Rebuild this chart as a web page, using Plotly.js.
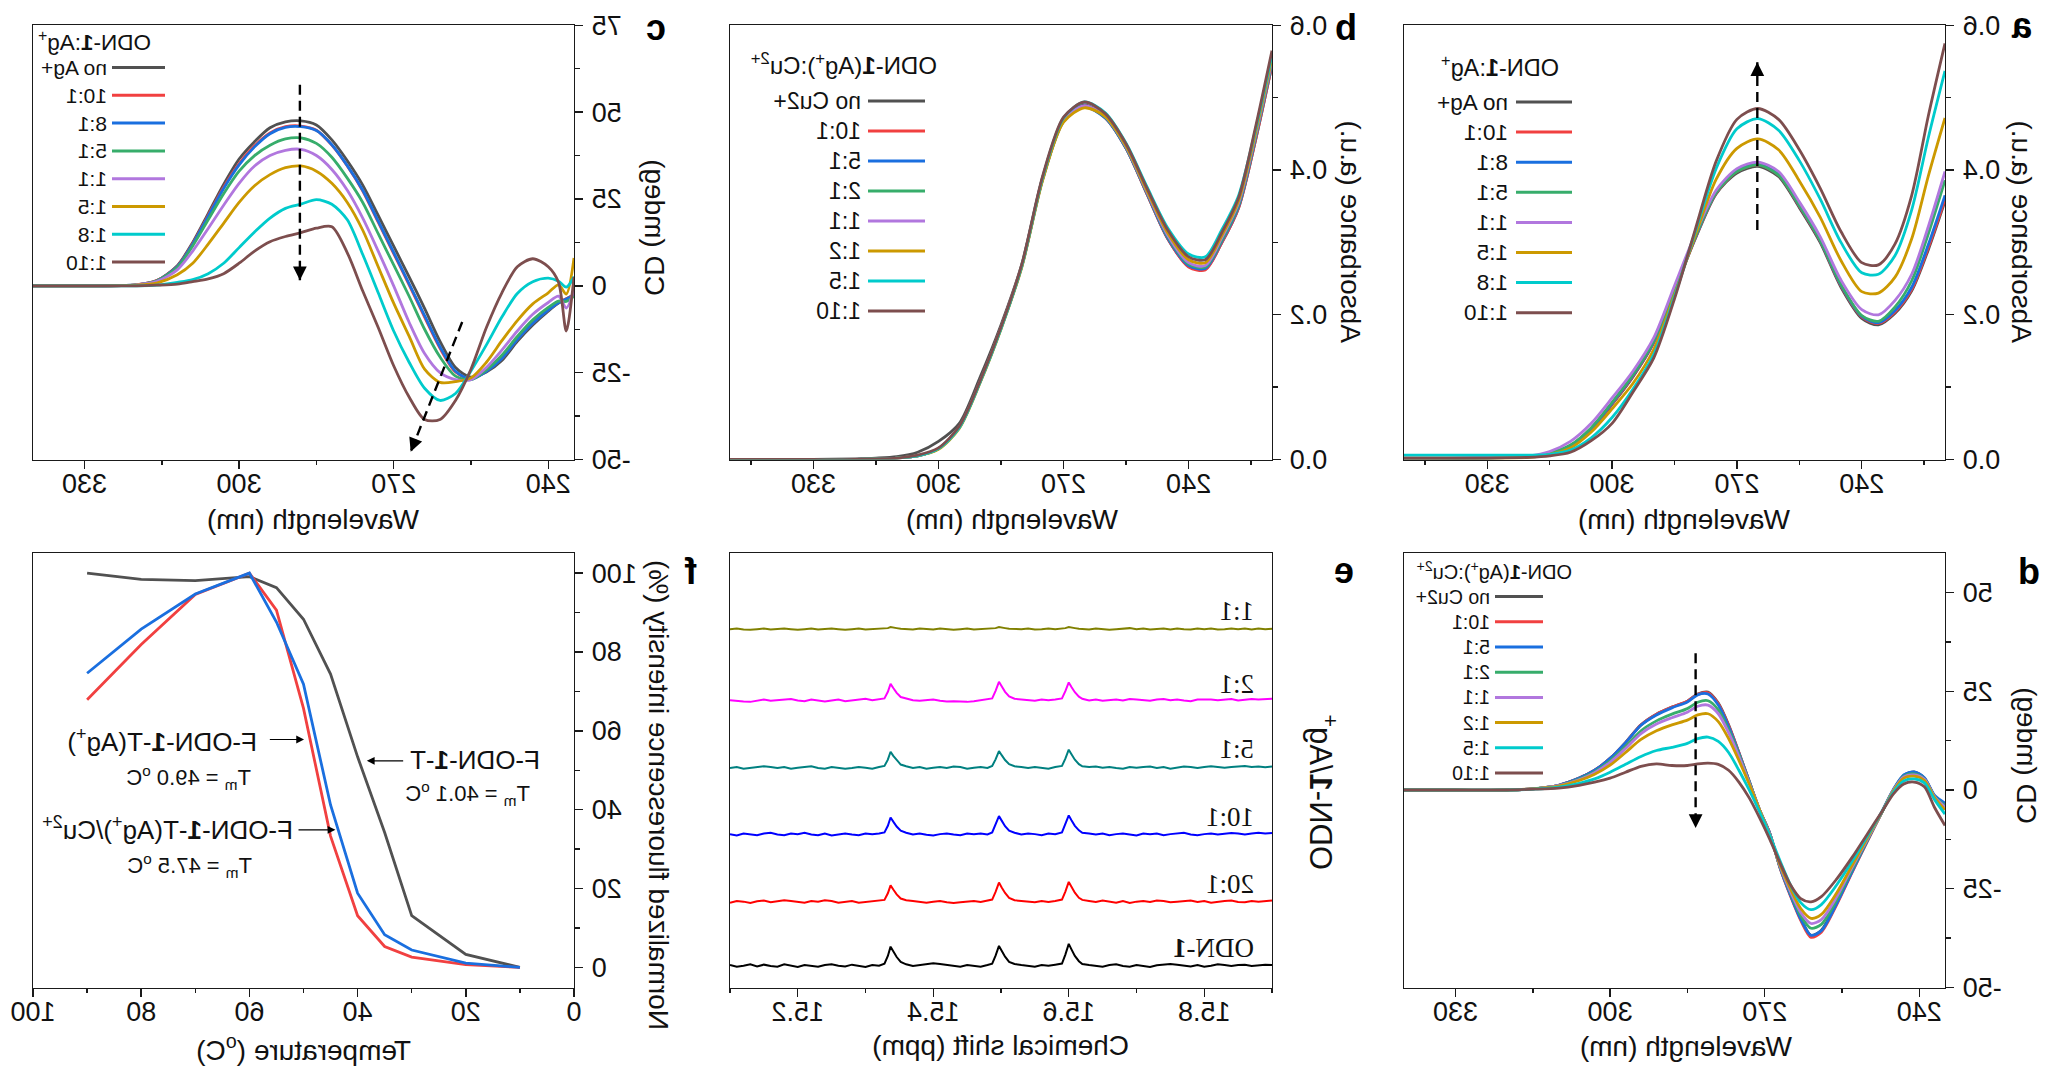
<!DOCTYPE html>
<html>
<head>
<meta charset="utf-8">
<script src="https://cdn.plot.ly/plotly-3.0.1.min.js"></script>
<style>
html,body{margin:0;padding:0;background:#fff;}
#chart{width:2048px;height:1076px;transform:scaleX(-1);}
</style>
</head>
<body>
<div id="chart"></div>
<script>
// ---------------- DATA ----------------
const agRatios = ['no Ag+','10:1','8:1','5:1','1:1','1:5','1:8','1:10'];
const cuRatios = ['no Cu2+','10:1','5:1','2:1','1:1','1:2','1:5','1:10'];

// (a) UV ODN-1 : Ag+  /  (b) UV ODN-1(Ag+) : Cu2+
const wlUV = [220,224,228,232,236,240,245,250,255,260,265,270,275,280,285,290,295,300,305,310,315,320,330,340,350];
const aNoAg = [0.357,0.290,0.233,0.202,0.186,0.195,0.238,0.300,0.348,0.391,0.405,0.396,0.367,0.305,0.233,0.161,0.114,0.076,0.042,0.018,0.008,0.004,0.002,0.001,0.000];
const a10_1 = [0.360,0.293,0.235,0.204,0.188,0.197,0.240,0.302,0.350,0.393,0.407,0.398,0.368,0.306,0.234,0.162,0.115,0.077,0.043,0.019,0.008,0.004,0.002,0.001,0.000];
const a8_1  = [0.365,0.297,0.238,0.206,0.189,0.198,0.241,0.303,0.351,0.394,0.408,0.399,0.369,0.307,0.235,0.163,0.116,0.078,0.043,0.019,0.008,0.004,0.002,0.001,0.000];
const a5_1  = [0.386,0.312,0.247,0.211,0.191,0.199,0.242,0.303,0.351,0.393,0.407,0.398,0.369,0.308,0.236,0.164,0.117,0.079,0.044,0.020,0.009,0.004,0.002,0.001,0.000];
const a1_1  = [0.398,0.322,0.256,0.220,0.200,0.207,0.248,0.308,0.356,0.398,0.411,0.402,0.372,0.312,0.240,0.168,0.122,0.085,0.050,0.025,0.011,0.005,0.003,0.002,0.002];
const a1_5  = [0.472,0.392,0.305,0.252,0.230,0.232,0.275,0.335,0.385,0.428,0.443,0.430,0.387,0.310,0.228,0.152,0.105,0.070,0.038,0.016,0.007,0.003,0.002,0.002,0.002];
const a1_8  = [0.537,0.445,0.345,0.282,0.256,0.258,0.300,0.360,0.413,0.455,0.471,0.457,0.402,0.315,0.225,0.145,0.097,0.058,0.030,0.013,0.007,0.006,0.006,0.006,0.006];
const a1_10 = [0.575,0.475,0.365,0.298,0.269,0.272,0.315,0.375,0.428,0.470,0.485,0.470,0.412,0.318,0.222,0.140,0.093,0.050,0.026,0.010,0.005,0.003,0.002,0.002,0.002];

const bNoCu = [0.545,0.440,0.348,0.300,0.263,0.267,0.305,0.367,0.430,0.473,0.490,0.470,0.390,0.270,0.186,0.114,0.050,0.025,0.010,0.004,0.002,0.001,0.000,0.000,0.000];
const b10_1 = [0.545,0.440,0.348,0.300,0.262,0.266,0.305,0.367,0.430,0.472,0.488,0.468,0.388,0.268,0.182,0.108,0.045,0.015,0.005,0.002,0.001,0.000,0.000,0.000,0.000];
const b5_1  = [0.548,0.443,0.350,0.302,0.264,0.268,0.306,0.368,0.430,0.472,0.487,0.467,0.387,0.267,0.181,0.107,0.044,0.015,0.005,0.002,0.001,0.000,0.000,0.000,0.000];
const b2_1  = [0.550,0.445,0.352,0.304,0.266,0.270,0.308,0.369,0.431,0.473,0.488,0.468,0.388,0.268,0.182,0.108,0.045,0.015,0.005,0.002,0.001,0.000,0.000,0.000,0.000];
const b1_1  = [0.552,0.447,0.355,0.307,0.268,0.272,0.310,0.370,0.432,0.474,0.489,0.469,0.389,0.268,0.182,0.108,0.045,0.015,0.005,0.002,0.001,0.000,0.000,0.000,0.000];
const b1_2  = [0.555,0.450,0.358,0.310,0.272,0.276,0.313,0.372,0.433,0.474,0.486,0.466,0.386,0.266,0.180,0.106,0.043,0.014,0.005,0.002,0.001,0.000,0.000,0.000,0.000];
const b1_5  = [0.560,0.455,0.365,0.318,0.280,0.284,0.320,0.377,0.437,0.479,0.494,0.472,0.390,0.268,0.181,0.107,0.044,0.015,0.005,0.002,0.001,0.000,0.000,0.000,0.000];
const b1_10 = [0.565,0.458,0.362,0.314,0.276,0.280,0.317,0.375,0.436,0.478,0.494,0.473,0.392,0.270,0.183,0.109,0.046,0.016,0.006,0.002,0.001,0.000,0.000,0.000,0.000];

// (c) CD ODN-1 : Ag+
const wlC = [235,236.5,238,240,243,246,249,252,255,258,261,264,267,270,273,276,279,282,285,288,291,294,297,300,303,306,309,312,316,320,330,340];
const cNoAg = [-2.5,-3.8,-5,-7.3,-11.3,-16,-21.5,-24.8,-26.3,-23.5,-16,-6.5,2.6,11.4,20.3,29,36,42,46.3,47.5,47.2,45.5,41.5,36.5,29.2,20.8,12.5,5.8,1.5,0.3,0,0];
const c10_1 = [-2.7,-3.7,-4.8,-6.9,-10.7,-15.4,-20.8,-24.5,-26.8,-24.8,-18,-9,0.3,9.3,18.3,27.3,34.5,40.5,44.8,46,45.8,44,40.3,35.2,28.4,20.3,12.2,5.6,1.5,0.3,0,0];
const c8_1  = [-2.8,-3.8,-4.9,-7,-10.8,-15.5,-20.9,-24.6,-26.9,-24.6,-17.6,-8.6,0.6,9.6,18.6,27.5,34.6,40.6,44.7,45.8,45.6,43.8,40,34.8,28,20,12,5.5,1.4,0.3,0,0];
const c5_1  = [-3,-4.5,-4.4,-6.2,-9.8,-14.6,-20,-24.2,-27,-26,-20.5,-12.5,-3,6,15,24,31,37,41,42.6,42.3,40.5,37.5,33,26.5,19,11.5,5.3,1.4,0.3,0,0];
const c1_1  = [-1,-6.4,-3,-4.8,-8.2,-13,-18.5,-23.5,-27,-27,-25,-19.5,-10.5,0,10,19.5,27.5,33.5,37.5,39.3,39,37.5,34.5,29.5,23.2,16.5,10,4.6,1.2,0.3,0,0];
const c1_5  = [8,-2.4,0.3,-2,-5.2,-10,-15.8,-22,-26.5,-27.6,-27.8,-24,-14.5,-5,5.5,16,24,29.5,33,34.5,34,32,28.8,24,18,12,6.5,3.2,0.8,0.2,0,0];
const c1_8  = [2.6,-0.4,1.3,2.2,1.2,-2.2,-9,-17,-24.5,-31,-33,-29.5,-22,-13,-2,9,19,23.5,24.8,23.5,22.3,19.5,15.5,11,6.5,3.5,1.8,1,0.2,0,0,0];
const c1_10 = [2.6,-13,1,5.5,7.8,5.5,-2,-12,-24,-33,-38.5,-38.5,-32,-23,-12,-1.5,9.5,17,16.6,15.3,14.2,12.7,10,6.5,3.5,2,1.2,0.5,0.2,0,0,0];

// (d) CD ODN-1(Ag+) : Cu2+
const wlD = [235,237,239,241,243,245,247,250,253,256,259,261,263,265,267,269,271,273,275,277,279,281,283,285,288,291,294,297,300,303,306,310,315,320,330,340];
const dNoCu = [-3.5,-1.6,3,4.6,3.7,0,-5,-12.7,-20.5,-28.5,-35.5,-36.8,-32.5,-26.5,-19.7,-11,-5,2.2,9.5,16.5,22,24.8,24.3,22.5,21,19.2,16.5,12,8,5,3,1.2,0.3,0,0,0];
const d10_1 = [-3.6,-1.6,2.9,4.4,3.6,0,-5,-12.8,-20.8,-29,-36,-37.3,-33,-26.8,-19.8,-11,-5,2.2,9.5,16.3,21.8,24.6,24.2,22.5,21,19.2,16.5,12,8,5,3,1.2,0.3,0,0,0];
const d5_1  = [-3.3,-1.4,3.1,4.6,3.8,0.2,-4.8,-12.6,-20.6,-28.7,-35.6,-36.8,-32.7,-26.6,-19.7,-11,-5,2.2,9.3,16,21.5,24.3,24.1,22.3,20.8,19,16.4,12,8,5,3,1.2,0.3,0,0,0];
const d2_1  = [-4,-1.7,2.8,4.1,3.5,0,-5,-12.5,-20,-27.8,-34,-35,-31.8,-26,-19.5,-11.2,-5,2,9,15.2,20.3,22.6,22.2,20.6,19.2,17.5,15,11,7.4,4.6,2.8,1.1,0.3,0,0,0];
const d1_1  = [-4.3,-1.8,2.7,3.8,3.3,0,-5,-12.3,-19.5,-27,-32.8,-33.8,-31,-25.7,-19.3,-11.3,-5,1.8,8.5,14.5,19.3,21.5,21.2,19.7,18.3,16.7,14.3,10.5,7,4.4,2.6,1.1,0.3,0,0,0];
const d1_2  = [-5,-2,2.4,3.5,3,-0.2,-5,-12,-19,-26,-31.5,-32.5,-30,-25,-19,-11.5,-5,1.5,7.5,13,17.3,19.3,19,17.7,16.5,15,12.8,9.5,6.3,4,2.4,1,0.3,0,0,0];
const d1_5  = [-6.1,-2.5,1.8,2.8,2.3,-0.5,-5,-11.5,-18,-24,-29,-30.3,-28.5,-24,-18,-11.5,-5.5,0,5,9.5,12.3,13.4,13,11.8,10.8,10,8.5,6.5,4.5,2.8,1.7,0.7,0.2,0,0,0];
const d1_10 = [-9,-4.5,0.8,2,1.5,-1,-5,-11,-17,-22.5,-27,-28.3,-27.5,-24,-18.5,-12.5,-7,-2,2,5,6.5,6.8,6.6,6.2,6.2,6.6,6,4.5,3,2,1.2,0.5,0.2,0,0,0];
const cdTickVals = [-50,-25,0,25,50,75];
const cdTickText = ['-50','-25','0','25','50','75'];

// (e) 1H NMR imino region, ODN-1 / Ag+
const ppm = [15.10,15.11,15.12,15.13,15.14,15.15,15.16,15.17,15.18,15.19,15.20,15.21,15.22,15.23,15.24,15.25,15.26,15.27,15.28,15.29,15.30,15.31,15.32,15.328,15.333,15.337,15.341,15.346,15.352,15.36,15.37,15.38,15.39,15.40,15.41,15.42,15.43,15.44,15.45,15.46,15.47,15.48,15.487,15.492,15.497,15.501,15.506,15.512,15.52,15.53,15.54,15.55,15.56,15.57,15.58,15.59,15.595,15.60,15.604,15.609,15.615,15.62,15.63,15.64,15.65,15.66,15.67,15.68,15.69,15.70,15.71,15.72,15.73,15.74,15.75,15.76,15.77,15.78,15.79,15.80,15.81,15.82,15.83,15.84,15.85,15.86,15.87,15.88,15.89,15.90];
const nmrLabels = ['ODN-<b>1</b>','20:1','10:1','5:1','2:1','1:1'];
const nmrODN1 = [2,-3,0,4,-2,3,-1,-3,4,0,-4,2,-1,-3,2,4,0,-2,3,-1,-4,2,0, 6,28,55,41,25,11,4, -1,2,4,7,5,2,-1,-3,2,0,-3,2, 6,29,57,43,26,11,5, 2,-1,-3,2,0,3, 6,32,63,47,28,13,5, 2,-1,-3,2,4,-1,-3,2,0,-4,1,2,5,3,1,-2,2,-3,0,4,2,-1,2,3,-1,2,3,2];
const nmr20_1 = [-3,2,0,-4,1,3,-2,0,4,2,-1,-3,2,0,4,2,-3,0,2,-3,-1,2,3, 5,24,47,35,21,9,4, 2,-1,-3,0,2,-2,-4,-2,0,2,-1,3, 6,28,55,41,25,11,4, 2,0,-2,2,-1,2, 6,29,57,43,26,11,5, 2,-1,3,0,-3,2,-4,0,2,-1,3,2,-2,0,2,3,-1,2,-3,0,2,3,-1,-2,2,0,2,3];
const nmr10_1 = [0,-4,2,0,-3,2,4,-1,-3,2,0,4,-1,-3,2,-4,0,2,-1,-3,2,0,2, 5,24,48,36,22,10,4, -1,2,-2,-4,0,2,-1,-3,2,0,2,-1, 5,26,52,39,23,10,4, -1,2,0,-3,2,0, 5,27,54,40,24,11,4, 2,-1,2,-3,0,2,-1,-4,2,0,2,-3,0,2,4,-1,-3,0,2,-1,2,3,2,-1,2,4,2,3];
const nmr5_1  = [-1,2,-3,0,2,4,2,-1,2,-3,0,2,4,-1,-3,2,0,-3,-1,2,0,-3,2, 5,23,46,34,21,9,4, -1,2,-3,0,2,-1,3,2,-3,0,2,-1, 5,24,48,36,22,10,4, 2,-1,2,0,-3,2, 5,26,52,39,23,10,4, 2,3,0,2,-1,-3,2,0,2,3,-1,2,-3,0,3,2,-1,2,4,2,0,2,3,5,2,3,1,3];
const nmr2_1  = [0,-3,-4,-5,-1,2,-2,0,2,3,-1,-3,2,0,-4,-1,2,-3,0,2,4,0,2, 5,24,47,35,21,9,4, 0,-2,0,2,-2,-4,-3,-4,-5,-3,0,2, 5,27,53,40,24,11,4, 2,0,-2,2,0,2, 5,26,51,38,23,10,4, -1,2,-2,0,2,-1,3,2,0,-2,2,3,0,2,-1,-3,2,3,2,0,2,3,-1,2,3,2,3,4];
const nmr1_1  = [0,2,-1,-2,0,2,-1,0,2,0,-2,0,2,-1,0,2,0,-2,0,2,-1,0,2, 1,3,6,4,3,1,0, -1,2,0,-1,2,0,-2,0,2,-1,0,2, 1,3,6,4,3,1,0, 0,2,-1,0,2,0, 1,3,6,4,3,1,0, -1,2,0,-2,0,2,3,0,2,-1,0,2,-1,2,0,-1,2,0,2,-1,0,2,0,2,-1,2,0,1];
const nmrOffsets = [63,248,443,635,830,1035];

// (f) melting curves
const tempC = [10,20,30,35,40,45,50,55,60,70,80,90];
const fODN1T = [0,3.3,13.1,34.2,53.4,74.4,88.3,96.3,99.1,98.1,98.4,100];
const fODN1TAg = [0,0.7,2.6,5.3,13.1,33.3,65.7,90.6,100,94.6,81.9,67.9];
const fODN1TAgCu = [0,1.1,4.4,8.3,18.8,41.2,71.8,87.6,100,94.7,85.8,74.6];

// ---------------- STYLE / LAYOUT ----------------
const FONT = 'Liberation Sans, Arial, Helvetica, sans-serif';
const SERIF = 'Liberation Serif, Times New Roman, serif';
const W = 2048, H = 1076;
const px = v => v / W;
const py = v => 1 - v / H;
const lineColors = ['#515151','#F14040','#1A6FDF','#37AD6B','#B177DE','#CC9900','#00CBCC','#7D4E4E'];
const nmrColors = ['#000000','#FF0000','#0000FF','#008080','#FF00FF','#808000'];

const C1 = [px(103), px(644)], C2 = [px(776), px(1318)], C3 = [px(1474), px(2015)];
const TOP = [py(459.5), py(25.3)], BOT = [py(987.5), py(553)];

function ax(o){
  return Object.assign({
    showline:true, mirror:true, linecolor:'#1a1a1a', linewidth:1.4,
    ticks:'outside', ticklen:8, tickwidth:1.4, tickcolor:'#1a1a1a',
    showgrid:false, zeroline:false, fixedrange:true,
    tickfont:{family:FONT,size:27,color:'#111'},
    ticklabelstandoff:3
  }, o);
}
function xax(o){ return ax(Object.assign({ticklabelstandoff:-8}, o)); }
function minor(d){ return {dtick:d, ticks:'outside', ticklen:4.5, tickwidth:1.4, tickcolor:'#1a1a1a', showgrid:false}; }

const traces = [];
function addLines(xs, list, names, xa, ya){
  list.forEach((ys,i)=>{
    traces.push({type:'scatter', mode:'lines', x:xs, y:ys, name:names[i], xaxis:xa, yaxis:ya,
      line:{color:lineColors[i], width:2.8, shape:'spline', smoothing:0.8}, showlegend:false, hoverinfo:'skip'});
  });
}
addLines(wlUV, [aNoAg,a10_1,a8_1,a5_1,a1_1,a1_5,a1_8,a1_10], agRatios, 'x', 'y');
addLines(wlUV, [bNoCu,b10_1,b5_1,b2_1,b1_1,b1_2,b1_5,b1_10], cuRatios, 'x2', 'y2');
addLines(wlC, [cNoAg,c10_1,c8_1,c5_1,c1_1,c1_5,c1_8,c1_10], agRatios, 'x3', 'y3');
addLines(wlD, [dNoCu,d10_1,d5_1,d2_1,d1_1,d1_2,d1_5,d1_10], cuRatios, 'x4', 'y4');

const nmrSpectra = [nmrODN1,nmr20_1,nmr10_1,nmr5_1,nmr2_1,nmr1_1];
nmrSpectra.forEach((s,i)=>{
  traces.push({type:'scatter', mode:'lines', x:ppm, y:s.map(v=>v+nmrOffsets[i]), name:nmrLabels[i],
    xaxis:'x5', yaxis:'y5', line:{color:nmrColors[i], width:2}, showlegend:false, hoverinfo:'skip'});
});

const meltNames = ['F-ODN-1-T','F-ODN-1-T(Ag+)','F-ODN-1-T(Ag+)/Cu2+'];
const meltColors = ['#515151','#F14040','#1A6FDF'];
[fODN1T,fODN1TAg,fODN1TAgCu].forEach((ys,i)=>{
  traces.push({type:'scatter', mode:'lines', x:tempC, y:ys, name:meltNames[i], xaxis:'x6', yaxis:'y6',
    line:{color:meltColors[i], width:2.8}, showlegend:false, hoverinfo:'skip'});
});

const annotations = [];
const shapes = [];
function ann(o){
  annotations.push(Object.assign({showarrow:false, xref:'paper', yref:'paper',
    font:{family:FONT,size:28,color:'#111'}}, o));
}

// axis titles
const xTitles = [
  [364,519,'Wavelength (nm)'],[1036,519,'Wavelength (nm)'],[1735,519,'Wavelength (nm)'],
  [362,1046,'Wavelength (nm)'],[1047,1045,'Chemical shift (ppm)'],[1744,1048,'Temperature (<sup>o</sup>C)']
];
xTitles.forEach(t=>ann({x:px(t[0]), y:py(t[1]), text:t[2], xanchor:'center', yanchor:'middle'}));
const yTitles = [
  [26,232,'Absorbance (a.u.)',28],[697,232,'Absorbance (a.u.)',28],[1393,228,'CD (mdeg)',28],
  [21,756,'CD (mdeg)',28],[725,792,'ODN-<b>1</b>/Ag<sup>+</sup>',31],[1389,795,'Normalized fluorescence intensity (%)',28]
];
yTitles.forEach(t=>ann({x:px(t[0]), y:py(t[1]), text:t[2], textangle:-90, xanchor:'center', yanchor:'middle',
  font:{family:FONT,size:t[3],color:'#111'}}));

// panel letters
[['a',26,25],['b',702,28],['c',1392,28],['d',19,571],['e',704,570],['f',1357,571]].forEach(l=>
  ann({x:px(l[1]), y:py(l[2]), text:'<b>'+l[0]+'</b>', xanchor:'center', yanchor:'middle',
    font:{family:FONT,size:36,color:'#000'}}));

// legends
function addLegend(s, names, title){
  ann({x:px(s.tx), y:py(s.ty), text:title, xanchor:'center', yanchor:'middle',
    font:{family:FONT,size:s.tf,color:'#111'}});
  names.forEach((n,i)=>{
    const yy = s.y0 + i*s.dy;
    shapes.push({type:'line', xref:'paper', yref:'paper', x0:px(s.x0), x1:px(s.x1), y0:py(yy), y1:py(yy),
      line:{color:lineColors[i], width:3}});
    ann({x:px(s.textX), y:py(yy), text:n, xanchor:'left', yanchor:'middle',
      font:{family:FONT,size:s.f,color:'#111'}});
  });
}
addLegend({x0:476,x1:532,textX:538,y0:102,dy:30.1,f:22.6,tx:548,ty:66,tf:23.5}, agRatios, 'ODN-<b>1</b>:Ag<sup>+</sup>');
addLegend({x0:1123,x1:1180,textX:1185,y0:101,dy:30,f:23,tx:1204,ty:64,tf:24}, cuRatios, 'ODN-<b>1</b>(Ag<sup>+</sup>):Cu<sup>2+</sup>');
addLegend({x0:1883,x1:1936,textX:1939,y0:67.5,dy:27.8,f:21,tx:1953,ty:41,tf:22.5}, agRatios, 'ODN-<b>1</b>:Ag<sup>+</sup>');
addLegend({x0:505,x1:553,textX:556,y0:596.6,dy:25.2,f:19.5,tx:553,ty:570.6,tf:20}, cuRatios, 'ODN-<b>1</b>(Ag<sup>+</sup>):Cu<sup>2+</sup>');

// dashed trend arrows
function dashedArrow(xa, ya, x0, y0, x1, y1, axp, ayp){
  shapes.push({type:'line', xref:xa, yref:ya, x0:x0, y0:y0, x1:x1, y1:y1, line:{color:'#000', width:2.4, dash:'10px,6px'}});
  annotations.push({xref:xa, yref:ya, x:x1, y:y1, ax:axp, ay:ayp, text:'', showarrow:true,
    arrowhead:2, arrowsize:1.1, arrowwidth:2.5, arrowcolor:'#000'});
}
dashedArrow('x','y',265.1,0.317,265.1,0.549,0,14);
dashedArrow('x3','y3',288.2,57.9,288.2,1.6,0,-14);
dashedArrow('x3','y3',256.7,-10.4,266.7,-47.8,-5.5,-14);
dashedArrow('x4','y4',283.4,34.6,283.4,-9.6,0,-14);

// NMR labels
const nmrLabelY = [113,298,493,688,878,1088];
nmrLabels.forEach((t,i)=>ann({xref:'x5', yref:'y5', x:15.877, y:nmrLabelY[i], text:t, xanchor:'left', yanchor:'middle',
  font:{family:SERIF,size:27,color:'#111'}}));

// melting annotations
[[58.2,57.6,'F-ODN-<b>1</b>-T(Ag<sup>+</sup>)',26],[59.4,48.2,'T<sub>m</sub> = 49.0 <sup>o</sup>C',22],
 [6.0,52.5,'F-ODN-<b>1</b>-T',26],[7.7,44.2,'T<sub>m</sub> = 40.1 <sup>o</sup>C',22],
 [51.6,35.2,'F-ODN-<b>1</b>-T(Ag<sup>+</sup>)/Cu<sup>2+</sup>',26],[59.2,25.8,'T<sub>m</sub> = 47.5 <sup>o</sup>C',22]
].forEach(a=>ann({xref:'x6', yref:'y6', x:a[0], y:a[1], text:a[2], xanchor:'left', yanchor:'middle',
  font:{family:FONT,size:a[3],color:'#111'}}));
[[49.9,57.8,56.5],[38.3,52.4,31.3],[44.1,34.9,51.2]].forEach(a=>annotations.push({
  xref:'x6', yref:'y6', axref:'x6', ayref:'y6', x:a[0], y:a[1], ax:a[2], ay:a[1], text:'', showarrow:true,
  arrowhead:2, arrowsize:1.3, arrowwidth:1.2, arrowcolor:'#000'}));

const layout = {
  width:W, height:H, margin:{l:0,r:0,t:0,b:0},
  paper_bgcolor:'#fff', plot_bgcolor:'#fff', showlegend:false,
  font:{family:FONT,color:'#111'},
  xaxis: xax({domain:C1, anchor:'y', range:[220,350], dtick:30, tick0:0, minor:minor(15)}),
  yaxis: ax({domain:TOP, anchor:'x', range:[0,0.6], dtick:0.2, tickformat:'.1f', minor:minor(0.1)}),
  xaxis2: xax({domain:C2, anchor:'y2', range:[220,350], dtick:30, tick0:0, minor:minor(15)}),
  yaxis2: ax({domain:TOP, anchor:'x2', range:[0,0.6], dtick:0.2, tickformat:'.1f', minor:minor(0.1)}),
  xaxis3: xax({domain:C3, anchor:'y3', range:[235,340], dtick:30, tick0:0, minor:minor(15)}),
  yaxis3: ax({domain:TOP, anchor:'x3', range:[-50,75], tickmode:'array', tickvals:cdTickVals, ticktext:cdTickText, minor:minor(12.5)}),
  xaxis4: xax({domain:C1, anchor:'y4', range:[235,340], dtick:30, tick0:0, minor:minor(15)}),
  yaxis4: ax({domain:BOT, anchor:'x4', range:[-50,60], tickmode:'array', tickvals:cdTickVals, ticktext:cdTickText, minor:minor(12.5)}),
  xaxis5: xax({domain:C2, anchor:'y5', range:[15.9,15.1], dtick:0.2, tick0:15, tickformat:'.1f', minor:minor(0.1)}),
  yaxis5: ax({domain:BOT, anchor:'x5', range:[0,1255], ticks:'', showticklabels:false}),
  xaxis6: xax({domain:C3, anchor:'y6', range:[0,100], dtick:20, tick0:0, minor:minor(10)}),
  yaxis6: ax({domain:BOT, anchor:'x6', range:[-5.1,105.1], dtick:20, tick0:0, minor:minor(10)}),
  annotations: annotations,
  shapes: shapes
};

Plotly.newPlot('chart', traces, layout, {staticPlot:true, displayModeBar:false});
</script>
</body>
</html>
